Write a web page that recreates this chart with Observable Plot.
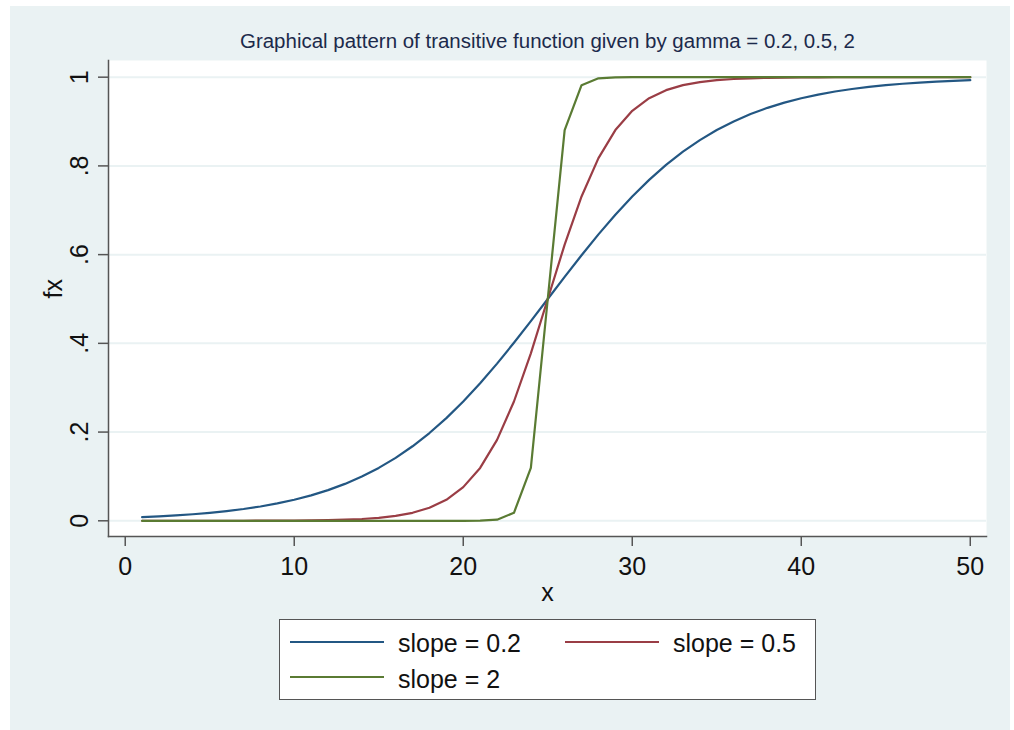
<!DOCTYPE html>
<html>
<head>
<meta charset="utf-8">
<script src="https://cdn.jsdelivr.net/npm/d3@7"></script>
<script src="https://cdn.jsdelivr.net/npm/@observablehq/plot@0.6"></script>
<style>
html, body { margin: 0; padding: 0; background: #ffffff; }
#page { position: relative; width: 1014px; height: 730px; overflow: hidden; font-family: Arial, "Liberation Sans", sans-serif; }
#bg { position: absolute; left: 10px; top: 6px; width: 1000px; height: 724px; background: #eaf2f3; }
#title { position: absolute; top: 30px; left: 0; white-space: nowrap; font-size: 20px; color: #1c2a4b; transform-origin: 0 0; }
#chart { position: absolute; left: 0; top: 0; }
#legend { position: absolute; left: 279px; top: 619px; width: 537px; height: 81px; background: #ffffff; border: 1px solid #555555; box-sizing: border-box; }
.sw { position: absolute; width: 94px; height: 2px; }
.lt { position: absolute; font-size: 25px; line-height: 25px; color: #111; white-space: nowrap; }
</style>
</head>
<body>
<div id="page">
  <div id="bg"></div>
  <div id="title"></div>
  <div id="chart"></div>
  <div id="legend"></div>
</div>
<script>
// ---- data ----
const titleText = "Graphical pattern of transitive function given by gamma = 0.2, 0.5, 2";
const xLabel = "x";
const yLabel = "fx";
const xs = d3.range(1, 51);
const slope02 = [0.0082,0.0099,0.0121,0.0148,0.0180,0.0219,0.0266,0.0323,0.0392,0.0474,
  0.0573,0.0691,0.0832,0.0998,0.1192,0.1419,0.1680,0.1978,0.2315,0.2689,
  0.3100,0.3543,0.4013,0.4502,0.5000,0.5498,0.5987,0.6457,0.6900,0.7311,
  0.7685,0.8022,0.8320,0.8581,0.8808,0.9002,0.9168,0.9309,0.9427,0.9526,
  0.9608,0.9677,0.9734,0.9781,0.9820,0.9852,0.9879,0.9900,0.9918,0.9933];
const slope05 = [0,0,0,0,0,0.0001,0.0001,0.0002,0.0003,0.0006,
  0.0009,0.0015,0.0025,0.0041,0.0067,0.0110,0.0180,0.0293,0.0474,0.0759,
  0.1192,0.1824,0.2689,0.3775,0.5000,0.6225,0.7311,0.8176,0.8808,0.9241,
  0.9526,0.9707,0.9820,0.9890,0.9933,0.9959,0.9975,0.9985,0.9991,0.9994,
  0.9997,0.9998,0.9999,0.9999,1,1,1,1,1,1];
const slope2 = [0,0,0,0,0,0,0,0,0,0,
  0,0,0,0,0,0,0,0,0,0,
  0.0003,0.0025,0.0180,0.1192,0.5000,0.8808,0.9820,0.9975,0.9997,1,
  1,1,1,1,1,1,1,1,1,1,
  1,1,1,1,1,1,1,1,1,1];
const seriesNames = ["slope = 0.2", "slope = 0.5", "slope = 2"];
const seriesColors = ["#235783", "#9a3d45", "#5a7b33"];
const seriesValues = [slope02, slope05, slope2];
const xTicks = [0, 10, 20, 30, 40, 50];
const yTicks = [0, 0.2, 0.4, 0.6, 0.8, 1];
const yTickLabels = ["0", ".2", ".4", ".6", ".8", "1"];

// ---- chart ----
const rows = [];
seriesValues.forEach((vals, s) => vals.forEach((v, i) => rows.push({x: xs[i], y: v, series: seriesNames[s]})));

const axisColor = "#555555";
const chart = Plot.plot({
  width: 1014,
  height: 610,
  marginLeft: 108,
  marginRight: 28,
  marginTop: 60,
  marginBottom: 74,
  style: {background: "transparent", fontFamily: "Arial, 'Liberation Sans', sans-serif", color: "#111"},
  x: {domain: [-0.99, 50.96]},
  y: {domain: [-0.0354, 1.0376]},
  color: {domain: seriesNames, range: seriesColors},
  marks: [
    Plot.frame({fill: "#ffffff", stroke: null}),
    Plot.gridY(yTicks, {stroke: "#eaf2f3", strokeOpacity: 1, strokeWidth: 2}),
    Plot.line(rows, {x: "x", y: "y", z: "series", stroke: "series", strokeWidth: 2.2}),
    Plot.frame({anchor: "left", stroke: axisColor, strokeWidth: 1.5}),
    Plot.frame({anchor: "bottom", stroke: axisColor, strokeWidth: 1.5}),
    Plot.axisX({ticks: xTicks, tickSize: 10, tickPadding: 11, fontSize: 25, stroke: axisColor, strokeWidth: 1.5, label: null, tickFormat: d => String(d)}),
    Plot.axisY({ticks: yTicks, tickSize: 10, tickFormat: () => "", stroke: axisColor, strokeWidth: 1.5, label: null}),
    Plot.text(yTicks, {y: d => d, text: (d, i) => yTickLabels[i], frameAnchor: "left", rotate: -90, dx: -29, textAnchor: "middle", lineAnchor: "middle", fontSize: 25}),
    Plot.text([xLabel], {frameAnchor: "bottom", dy: 56, lineAnchor: "middle", fontSize: 25}),
    Plot.text([yLabel], {frameAnchor: "left", dx: -55, rotate: -90, lineAnchor: "middle", fontSize: 25})
  ]
});
document.getElementById("chart").appendChild(chart);

// ---- title ----
const t = document.getElementById("title");
t.textContent = titleText;
const targetW = 615, targetCenter = 547;
const w = t.getBoundingClientRect().width;
const sx = targetW / w;
t.style.left = (targetCenter - targetW / 2) + "px";
t.style.transform = `scaleX(${sx})`;

// ---- legend ----
const lg = document.getElementById("legend");
const slots = [{sw: [10, 21], tx: [118, 11]}, {sw: [285, 21], tx: [393, 11]}, {sw: [10, 56], tx: [118, 47]}];
seriesNames.forEach((name, i) => {
  const s = document.createElement("div");
  s.className = "sw";
  s.style.left = slots[i].sw[0] + "px";
  s.style.top = slots[i].sw[1] + "px";
  s.style.background = seriesColors[i];
  lg.appendChild(s);
  const tx = document.createElement("div");
  tx.className = "lt";
  tx.style.left = slots[i].tx[0] + "px";
  tx.style.top = slots[i].tx[1] + "px";
  tx.textContent = name;
  lg.appendChild(tx);
});
</script>
</body>
</html>
